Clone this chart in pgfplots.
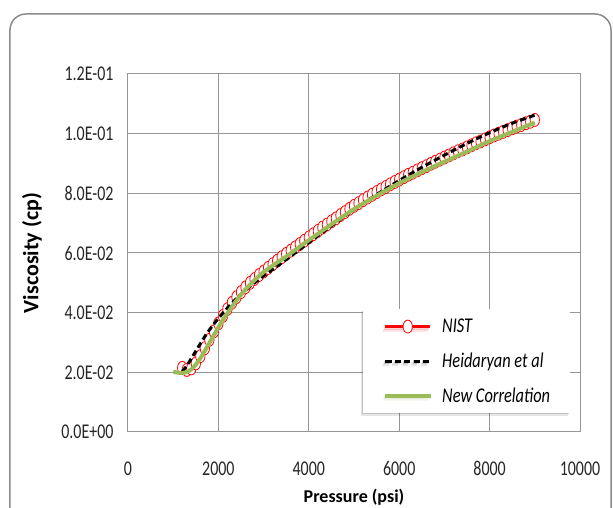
\documentclass[border=0pt]{standalone}
\usepackage{fontspec}
\setmainfont{Carlito}
\newfontfamily\tickfont[FakeStretch=0.76]{Carlito}
\newfontfamily\legfont[FakeStretch=0.78]{Carlito}
\usepackage{pgfplots}
\usepackage{pgfplotstable}
\pgfplotsset{compat=1.18}
\usetikzlibrary{shadows}

\definecolor{gridgray}{RGB}{150,150,150}
\definecolor{framegray}{RGB}{140,140,140}
\definecolor{corrgreen}{RGB}{155,187,89}

% upright ellipse marker for the NIST points
\pgfdeclareplotmark{vellipse}{%
  \pgfpathellipse{\pgfpointorigin}%
    {\pgfqpoint{0.72\pgfplotmarksize}{0pt}}%
    {\pgfqpoint{0pt}{\pgfplotmarksize}}%
  \pgfusepathqfillstroke}

% NIST reference viscosity (cp) vs pressure (psi)
\pgfplotstableread{
p mu
1200 0.0215
1300 0.0208
1400 0.0213
1500 0.0230
1600 0.0254
1700 0.0281
1800 0.0309
1900 0.0337
2000 0.0364
2100 0.0389
2200 0.0412
2300 0.0433
2400 0.0452
2500 0.0469
2600 0.0485
2700 0.0500
2800 0.0513
2900 0.0526
3000 0.0538
3100 0.0550
3200 0.0562
3300 0.0574
3400 0.0586
3500 0.0597
3600 0.0608
3700 0.0619
3800 0.0630
3900 0.0641
4000 0.0652
4100 0.0663
4200 0.0674
4300 0.0685
4400 0.0695
4500 0.0706
4600 0.0716
4700 0.0727
4800 0.0737
4900 0.0748
5000 0.0758
5100 0.0767
5200 0.0777
5300 0.0786
5400 0.0795
5500 0.0804
5600 0.0813
5700 0.0821
5800 0.0830
5900 0.0838
6000 0.0846
6100 0.0854
6200 0.0862
6300 0.0869
6400 0.0877
6500 0.0884
6600 0.0891
6700 0.0899
6800 0.0906
6900 0.0913
7000 0.0920
7100 0.0927
7200 0.0934
7300 0.0941
7400 0.0947
7500 0.0954
7600 0.0961
7700 0.0968
7800 0.0974
7900 0.0981
8000 0.0988
8100 0.0994
8200 0.1000
8300 0.1006
8400 0.1012
8500 0.1018
8600 0.1024
8700 0.1029
8800 0.1035
8900 0.1040
9000 0.1046
}\nist

% Heidaryan et al correlation
\pgfplotstableread{
p mu
1200 0.0203
1300 0.0222
1400 0.0246
1500 0.0271
1600 0.0296
1700 0.0320
1800 0.0342
1900 0.0362
2000 0.0381
2100 0.0399
2200 0.0416
2400 0.0447
2600 0.0475
2800 0.0500
3000 0.0523
3500 0.0578
4000 0.0635
4500 0.0691
5000 0.0745
5500 0.0796
6000 0.0843
6500 0.0887
7000 0.0928
7500 0.0967
8000 0.1003
8500 0.1035
9000 0.1062
}\heid

% New correlation
\pgfplotstableread{
p mu
1000 0.0202
1100 0.0199
1200 0.0198
1300 0.0201
1400 0.0210
1500 0.0226
1600 0.0247
1700 0.0272
1800 0.0298
1900 0.0325
2000 0.0351
2100 0.0376
2200 0.0398
2300 0.0420
2400 0.0441
2500 0.0460
2600 0.0478
2700 0.0494
2800 0.0509
2900 0.0523
3000 0.0536
3250 0.0563
3500 0.0588
3750 0.0616
4000 0.0643
4500 0.0696
5000 0.0747
5500 0.0792
6000 0.0834
6500 0.0871
7000 0.0906
7500 0.0940
8000 0.0975
8500 0.1006
9000 0.1037
}\newcorr

\begin{document}
\begin{tikzpicture}
\begin{axis}[
  scale only axis,
  width=452pt, height=358pt,
  xmin=0, xmax=10000, ymin=0, ymax=0.12,
  xtick={0,2000,4000,6000,8000,10000},
  xticklabels={0,2000,4000,6000,8000,10000},
  ytick={0,0.02,0.04,0.06,0.08,0.1,0.12},
  yticklabels={0.0E+00,2.0E-02,4.0E-02,6.0E-02,8.0E-02,1.0E-01,1.2E-01},
  scaled ticks=false,
  clip marker paths=true,
  grid=major,
  major grid style={gridgray, line width=1pt},
  axis line style={gridgray, line width=1pt},
  major tick length=0pt,
  tick label style={font=\tickfont\fontsize{21}{23}\selectfont, text=black!85},
  xticklabel style={yshift=-26pt},
  yticklabel style={xshift=-11pt},
  xlabel={Pressure (psi)},
  ylabel={Viscosity (cp)},
  xlabel style={font=\bfseries\fontsize{18}{20}\selectfont,
    at={(axis description cs:0.5,-0.198)}, anchor=base},
  ylabel style={font=\bfseries\fontsize{22}{24}\selectfont,
    at={(axis description cs:-0.2124,0.5)}, anchor=center},
  legend image code/.code={%
    \draw[mark repeat=2,mark phase=2,#1]
      plot coordinates {(0pt,0pt) (22.5pt,0pt) (45pt,0pt)};},
  legend cell align=left,
  legend style={
    at={(axis description cs:0.52,0.053)}, anchor=south west,
    draw=none, fill=white,
    inner xsep=20pt, inner ysep=0pt,
    column sep=10pt, row sep=0pt,
    nodes={inner sep=0pt, minimum height=34.5pt,
      font=\legfont\itshape\fontsize{21}{23}\selectfont},
    drop shadow={shadow xshift=-1pt, shadow yshift=-1.5pt,
      fill=black, opacity=0.15},
    drop shadow={shadow xshift=-2.5pt, shadow yshift=-3.5pt,
      fill=black, opacity=0.10}},
]
\addplot[red, line width=3pt, mark=vellipse, mark size=6.5pt,
  mark options={solid, fill=white, draw=red, line width=0.8pt}]
  table[x=p, y=mu] {\nist};
\addlegendentry{NIST}
\addplot[black, line width=3pt, dash pattern=on 6pt off 3.5pt, smooth]
  table[x=p, y=mu] {\heid};
\addlegendentry{Heidaryan et al}
\addplot[corrgreen, line width=4pt, smooth]
  table[x=p, y=mu] {\newcorr};
\addlegendentry{New Correlation}
\end{axis}
\begin{scope}
  \clip (-128pt,-76pt) rectangle (485pt,432pt);
  \draw[framegray, line width=1.5pt, rounded corners=16pt]
    (-118pt,-140pt) rectangle (483pt,418pt);
\end{scope}
\pgfresetboundingbox
\useasboundingbox (-128pt,-76pt) rectangle (485pt,432pt);
\end{tikzpicture}
\end{document}
